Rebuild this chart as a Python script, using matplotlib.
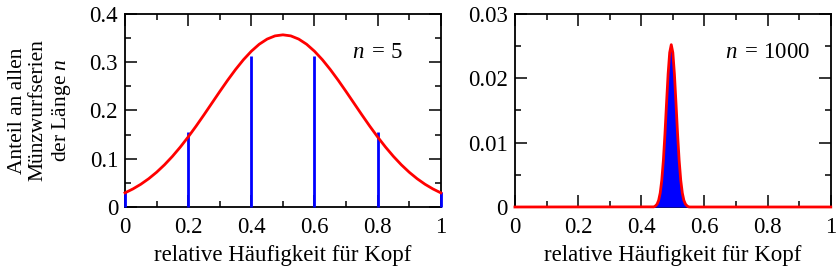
import matplotlib
matplotlib.use("Agg")
import matplotlib.pyplot as plt
from matplotlib.ticker import MultipleLocator, FormatStrFormatter

plt.rcParams['font.family'] = ['Liberation Serif', 'DejaVu Serif']
plt.rcParams['mathtext.fontset'] = 'custom'
plt.rcParams['mathtext.rm'] = 'Liberation Serif'
plt.rcParams['mathtext.it'] = 'Liberation Serif:italic'
plt.rcParams['font.size'] = 16.5

# Anteile der Münzwurfserien, n = 5 (Stäbe)
stab_x = [0.0, 0.2, 0.4, 0.6, 0.8, 1.0]
stab_y = [0.031, 0.156, 0.3125, 0.3125, 0.156, 0.031]

# Glockenkurve n = 5
kurve5_x = [0.0, 0.025, 0.05, 0.075, 0.1, 0.125, 0.15, 0.175, 0.2, 0.225,
            0.25, 0.275, 0.3, 0.325, 0.35, 0.375, 0.4, 0.425, 0.45, 0.475,
            0.5, 0.525, 0.55, 0.575, 0.6, 0.625, 0.65, 0.675, 0.7, 0.725,
            0.75, 0.775, 0.8, 0.825, 0.85, 0.875, 0.9, 0.925, 0.95, 0.975, 1.0]
kurve5_y = [0.0293, 0.0374, 0.0471, 0.0586, 0.0720, 0.0874, 0.1048, 0.1241,
            0.1451, 0.1675, 0.1910, 0.2151, 0.2392, 0.2627, 0.2849, 0.3052,
            0.3228, 0.3373, 0.3480, 0.3546, 0.3568, 0.3546, 0.3480, 0.3373,
            0.3228, 0.3052, 0.2849, 0.2627, 0.2392, 0.2151, 0.1910, 0.1675,
            0.1451, 0.1241, 0.1048, 0.0874, 0.0720, 0.0586, 0.0471, 0.0374,
            0.0293]

# Glockenkurve n = 1000
kurve1000_x = [0.0, 0.44, 0.445, 0.45, 0.455, 0.46, 0.465, 0.47, 0.475, 0.48,
               0.485, 0.49, 0.495, 0.5, 0.505, 0.51, 0.515, 0.52, 0.525, 0.53,
               0.535, 0.54, 0.545, 0.55, 0.555, 0.56, 1.0]
kurve1000_y = [0.0, 0.00002, 0.00017, 0.00044, 0.00103, 0.00218, 0.00417,
               0.00723, 0.01134, 0.01609, 0.02066, 0.0240, 0.02523, 0.0240,
               0.02066, 0.01609, 0.01134, 0.00723, 0.00417, 0.00218, 0.00103,
               0.00044, 0.00017, 0.00002, 0.0, 0.0, 0.0]


def achsen_stil(ax, ymax, ymajor, yminor):
    ax.set_xlim(0, 1)
    ax.set_ylim(0, ymax)
    ax.xaxis.set_major_locator(MultipleLocator(0.2))
    ax.xaxis.set_minor_locator(MultipleLocator(0.1))
    ax.yaxis.set_major_locator(MultipleLocator(ymajor))
    ax.yaxis.set_minor_locator(MultipleLocator(yminor))
    ax.xaxis.set_major_formatter(FormatStrFormatter('%g'))
    ax.yaxis.set_major_formatter(FormatStrFormatter('%g'))
    ax.tick_params(which='both', direction='in', top=True, right=True, width=1.1)
    ax.tick_params(axis='x', which='major', length=8.5, pad=7)
    ax.tick_params(axis='y', which='major', length=8.5, pad=5)
    ax.tick_params(which='minor', length=4.5)
    for s in ax.spines.values():
        s.set_linewidth(1.3)
    ax.set_xlabel('relative Häufigkeit für Kopf', labelpad=5)


fig = plt.figure(figsize=(8.4, 2.69), dpi=100)
ax1 = fig.add_axes([0.1488, 0.2305, 0.376, 0.7175])
ax2 = fig.add_axes([0.613, 0.2305, 0.376, 0.7175])

# links: n = 5
ax1.vlines(stab_x, 0, stab_y, color='#0000ff', linewidth=2, clip_on=False, zorder=4)
ax1.plot(kurve5_x, kurve5_y, color='#ff0000', linewidth=2, clip_on=False, zorder=5)
achsen_stil(ax1, 0.4, 0.1, 0.05)
ax1.set_ylabel('Anteil an allen\nMünzwurfserien\nder Länge $n$', labelpad=12,
               linespacing=1.12, fontsize=15.5)
ax1.text(0.80, 0.80, '$n\\,$ = 5', transform=ax1.transAxes, ha='center', va='center')

# rechts: n = 1000
ax2.fill_between(kurve1000_x, 0, kurve1000_y, color='#0000ff', linewidth=0, zorder=3)
ax2.plot(kurve1000_x, kurve1000_y, color='#ff0000', linewidth=2, clip_on=False, zorder=5)
achsen_stil(ax2, 0.03, 0.01, 0.005)
ax2.text(0.80, 0.80, '$n\\,$ = 1000', transform=ax2.transAxes, ha='center', va='center')

fig.savefig('out.png', dpi=100)
